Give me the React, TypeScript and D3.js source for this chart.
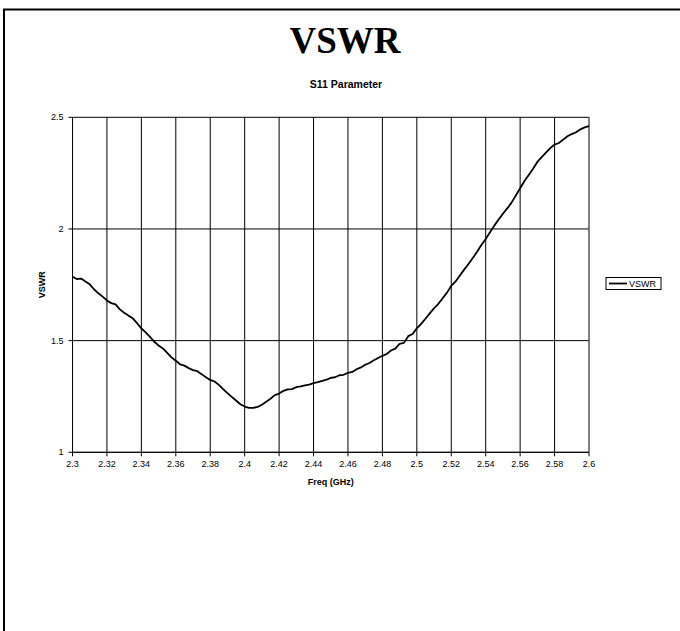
import React from "react";
import * as d3 from "d3";

const freqs: number[] = [
  2.3, 2.3025, 2.305, 2.3075, 2.31, 2.3125, 2.315, 2.3175, 2.32, 2.3225,
  2.325, 2.3275, 2.33, 2.3325, 2.335, 2.3375, 2.34, 2.3425, 2.345, 2.3475,
  2.35, 2.3525, 2.355, 2.3575, 2.36, 2.3625, 2.365, 2.3675, 2.37, 2.3725,
  2.375, 2.3775, 2.38, 2.3825, 2.385, 2.3875, 2.39, 2.3925, 2.395, 2.3975,
  2.4, 2.4025, 2.405, 2.4075, 2.41, 2.4125, 2.415, 2.4175, 2.42, 2.4225,
  2.425, 2.4275, 2.43, 2.4325, 2.435, 2.4375, 2.44, 2.4425, 2.445, 2.4475,
  2.45, 2.4525, 2.455, 2.4575, 2.46, 2.4625, 2.465, 2.4675, 2.47, 2.4725,
  2.475, 2.4775, 2.48, 2.4825, 2.485, 2.4875, 2.49, 2.4925, 2.495, 2.4975,
  2.5, 2.5025, 2.505, 2.5075, 2.51, 2.5125, 2.515, 2.5175, 2.52, 2.5225,
  2.525, 2.5275, 2.53, 2.5325, 2.535, 2.5375, 2.54, 2.5425, 2.545, 2.5475,
  2.55, 2.5525, 2.555, 2.5575, 2.56, 2.5625, 2.565, 2.5675, 2.57, 2.5725,
  2.575, 2.5775, 2.58, 2.5825, 2.585, 2.5875, 2.59, 2.5925, 2.595, 2.5975,
  2.6,
];
const vswr: number[] = [
  1.786, 1.776, 1.778, 1.765, 1.752, 1.73, 1.712, 1.697, 1.68, 1.668,
  1.662, 1.64, 1.625, 1.612, 1.6, 1.578, 1.555, 1.537, 1.517, 1.495,
  1.478, 1.465, 1.445, 1.425, 1.41, 1.394, 1.388, 1.377, 1.368, 1.363,
  1.35, 1.336, 1.324, 1.317, 1.302, 1.283, 1.265, 1.248, 1.232, 1.215,
  1.205, 1.199, 1.199, 1.203, 1.213, 1.226, 1.24, 1.256, 1.263, 1.275,
  1.282, 1.283, 1.292, 1.295, 1.3, 1.303, 1.31, 1.314, 1.32, 1.325,
  1.333, 1.336, 1.345, 1.347, 1.356, 1.36, 1.372, 1.38, 1.392, 1.4,
  1.412, 1.422, 1.432, 1.44, 1.456, 1.464, 1.486, 1.49, 1.52, 1.53,
  1.555, 1.575, 1.598, 1.622, 1.645, 1.665, 1.69, 1.715, 1.745, 1.765,
  1.792, 1.818, 1.843, 1.87, 1.898, 1.928, 1.955, 1.985, 2.015, 2.042,
  2.068, 2.092, 2.118, 2.15, 2.182, 2.215, 2.242, 2.27, 2.3, 2.322,
  2.342, 2.362, 2.378, 2.385, 2.4, 2.415, 2.425, 2.433, 2.446, 2.455,
  2.46,
];
const xTicks: number[] = [
  2.3, 2.32, 2.34, 2.36, 2.38, 2.4, 2.42, 2.44, 2.46, 2.48, 2.5, 2.52, 2.54, 2.56,
  2.58, 2.6,
];
const yTicks: number[] = [1, 1.5, 2, 2.5];

const W = 680;
const H = 631;
const plot = { left: 72.5, right: 589, top: 117.3, bottom: 452.3 };
const sans = "'Liberation Sans', Arial, sans-serif";
const serif = "'Liberation Serif', 'Times New Roman', serif";

export default function App() {
  const x = d3.scaleLinear().domain([2.3, 2.6]).range([plot.left, plot.right]);
  const y = d3.scaleLinear().domain([1, 2.5]).range([plot.bottom, plot.top]);
  const pts = freqs.map((f, i) => [f, vswr[i]] as [number, number]);
  const line = d3
    .line<[number, number]>()
    .x((d) => x(d[0]))
    .y((d) => y(d[1]));
  const fmt = (v: number) => String(+v.toFixed(2));

  return (
    <svg
      width={W}
      height={H}
      style={{ position: "absolute", left: 0, top: 0, background: "#fff" }}
    >
      <rect x={0} y={0} width={W} height={H} fill="#fff" />
      <rect
        x={4}
        y={9.5}
        width={W + 20}
        height={H + 20}
        fill="none"
        stroke="#000"
        strokeWidth={2}
      />
      <text
        x={345}
        y={53}
        textAnchor="middle"
        fontFamily={serif}
        fontWeight="bold"
        fontSize={37}
      >
        VSWR
      </text>
      <text
        x={346}
        y={88}
        textAnchor="middle"
        fontFamily={sans}
        fontWeight="bold"
        fontSize={10.5}
      >
        S11 Parameter
      </text>

      {/* grid */}
      {xTicks.map((t) => (
        <line
          key={"gx" + t}
          x1={x(t)}
          x2={x(t)}
          y1={plot.top}
          y2={plot.bottom + 4}
          stroke="#000"
          strokeWidth={1}
        />
      ))}
      {yTicks.map((t) => (
        <line
          key={"gy" + t}
          x1={plot.left - 4}
          x2={plot.right}
          y1={y(t)}
          y2={y(t)}
          stroke="#000"
          strokeWidth={1}
        />
      ))}
      <line
        x1={plot.right}
        x2={plot.right}
        y1={plot.top}
        y2={plot.bottom}
        stroke="#808080"
        strokeWidth={1}
      />
      <line
        x1={plot.left}
        x2={plot.left}
        y1={plot.top}
        y2={plot.bottom}
        stroke="#000"
        strokeWidth={1}
      />
      <line
        x1={plot.left}
        x2={plot.right}
        y1={plot.bottom}
        y2={plot.bottom}
        stroke="#000"
        strokeWidth={1}
      />

      {/* tick labels */}
      {xTicks.map((t) => (
        <text
          key={"tx" + t}
          x={x(t)}
          y={plot.bottom + 15}
          textAnchor="middle"
          fontFamily={sans}
          fontSize={9}
        >
          {fmt(t)}
        </text>
      ))}
      {yTicks.map((t) => (
        <text
          key={"ty" + t}
          x={plot.left - 9}
          y={y(t) + 3}
          textAnchor="end"
          fontFamily={sans}
          fontSize={9}
        >
          {fmt(t)}
        </text>
      ))}
      <text
        x={(plot.left + plot.right) / 2}
        y={485}
        textAnchor="middle"
        fontFamily={sans}
        fontWeight="bold"
        fontSize={9}
      >
        Freq (GHz)
      </text>
      <text
        transform={`translate(45,${(plot.top + plot.bottom) / 2}) rotate(-90)`}
        textAnchor="middle"
        fontFamily={sans}
        fontWeight="bold"
        fontSize={9}
      >
        VSWR
      </text>

      {/* series */}
      <path
        d={line(pts) || ""}
        fill="none"
        stroke="#000"
        strokeWidth={1.8}
        strokeLinejoin="round"
      />

      {/* legend */}
      <rect
        x={606}
        y={277.5}
        width={55}
        height={12}
        fill="#fff"
        stroke="#000"
        strokeWidth={1}
      />
      <line x1={609} x2={627} y1={283.5} y2={283.5} stroke="#000" strokeWidth={1.8} />
      <text x={629} y={287} fontFamily={sans} fontSize={9}>
        VSWR
      </text>
    </svg>
  );
}
